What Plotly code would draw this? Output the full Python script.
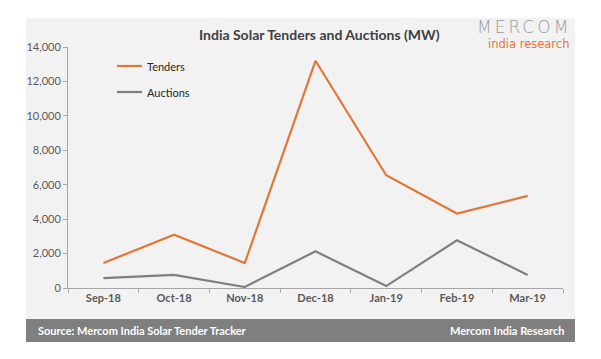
import plotly.graph_objects as go

months = ["Sep-18", "Oct-18", "Nov-18", "Dec-18", "Jan-19", "Feb-19", "Mar-19"]
tenders = [1450, 3100, 1450, 13200, 6550, 4330, 5350]
auctions = [570, 760, 60, 2130, 110, 2770, 760]
y_ticks = [0, 2000, 4000, 6000, 8000, 10000, 12000, 14000]

ORANGE = "#E2773A"
GRAY = "#7F7F7F"
FONT = "Lato"

fig = go.Figure()
fig.add_trace(go.Scatter(x=months, y=tenders, mode="lines", name="Tenders",
                         line=dict(color=ORANGE, width=2.2)))
fig.add_trace(go.Scatter(x=months, y=auctions, mode="lines", name="Auctions",
                         line=dict(color=GRAY, width=2.2)))

# page has an 8px body margin, so figure is 593x351 placed at (8,8)
fig.update_layout(
    width=593, height=351,
    paper_bgcolor="white", plot_bgcolor="rgba(0,0,0,0)",
    margin=dict(l=60, r=38, t=39, b=71),
    font=dict(family=FONT, color="#595959", size=11),
    showlegend=False,
)
fig.update_xaxes(type="category", showgrid=False, showline=True, linecolor="#A6A6A6",
                 linewidth=1, ticks="outside", tickson="boundaries", ticklen=4,
                 tickcolor="#A6A6A6", range=[-0.5, 6.5],
                 tickfont=dict(family=FONT, size=11, color="#595959", weight="bold"))
fig.update_yaxes(range=[0, 14000], tickvals=y_ticks, tickformat=",d", showgrid=False,
                 showline=True, linecolor="#A6A6A6", linewidth=1, ticks="outside",
                 ticklen=4, tickcolor="#A6A6A6", zeroline=False,
                 tickfont=dict(family=FONT, size=11, color="#595959"))


def px(x):
    return (x - 68) / 495


def py(y):
    return (288 - y) / 241


shapes = [
    dict(type="rect", xref="paper", yref="paper", layer="below",
         x0=px(26), x1=px(575), y0=py(342), y1=py(18),
         fillcolor="#F2F2F2", line=dict(width=0)),
    dict(type="rect", xref="paper", yref="paper", layer="above",
         x0=px(26), x1=px(575), y0=py(342), y1=py(319),
         fillcolor="#7F7F7F", line=dict(width=0)),
]
for yy, col in [(66, ORANGE), (92, GRAY)]:
    shapes.append(dict(type="line", xref="paper", yref="paper",
                       x0=px(117), x1=px(142), y0=py(yy), y1=py(yy),
                       line=dict(color=col, width=2.2)))
fig.update_layout(shapes=shapes)

ann = [
    dict(text="<b>India Solar Tenders and Auctions (MW)</b>", x=px(319), y=py(35),
         font=dict(size=14, color="#404040", family=FONT)),
    dict(text="Tenders", x=px(145), y=py(66), xanchor="left",
         font=dict(size=11, color="#262626", family=FONT)),
    dict(text="Auctions", x=px(145), y=py(92), xanchor="left",
         font=dict(size=11, color="#262626", family=FONT)),
    dict(text="<span style='letter-spacing:3px'>MERCOM</span>", x=px(572), y=py(27),
         xanchor="right", borderpad=0,
         font=dict(size=17, color="#9A9A9A", family="DejaVu Sans", weight=200)),
    dict(text="india research", x=px(570), y=py(43.5), xanchor="right", borderpad=0,
         font=dict(size=11.5, color="#E2773A", family="DejaVu Sans")),
    dict(text="<b>Source: Mercom India Solar Tender Tracker</b>", x=px(36), y=py(330.5),
         xanchor="left", font=dict(size=11, color="white", family=FONT)),
    dict(text="<b>Mercom India Research</b>", x=px(566), y=py(330.5), xanchor="right",
         font=dict(size=11, color="white", family=FONT)),
]
for a in ann:
    a.update(xref="paper", yref="paper", showarrow=False)
    a.setdefault("xanchor", "center")
    a["yanchor"] = "middle"
fig.update_layout(annotations=ann)

fig.write_html("out.html")
